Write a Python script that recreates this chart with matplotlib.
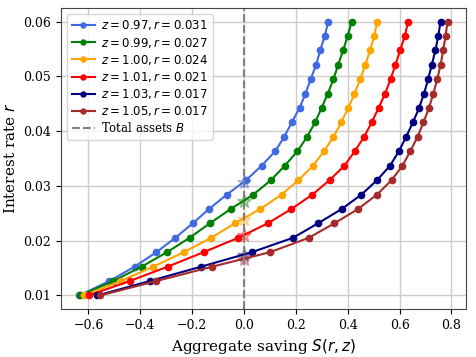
import numpy as np
import matplotlib
matplotlib.use("Agg")
import matplotlib.pyplot as plt

plt.rcParams['font.family'] = 'serif'
plt.rcParams['mathtext.fontset'] = 'dejavusans'

# interest rate grid (20 points)
r_grid = np.linspace(0.01, 0.06, 20)

z_vals = [0.97, 0.99, 1.00, 1.01, 1.03, 1.05]
r_eq = [0.0308, 0.0273, 0.0240, 0.0210, 0.0174, 0.0167]
colors = ['royalblue', 'green', 'orange', 'red', 'navy', 'brown']

S_097 = [-0.635, -0.519, -0.422, -0.338, -0.265, -0.198, -0.135, -0.066, 0.008, 0.068,
         0.120, 0.155, 0.184, 0.214, 0.237, 0.257, 0.278, 0.294, 0.311, 0.325]
S_099 = [-0.632, -0.504, -0.395, -0.297, -0.210, -0.132, -0.051, 0.036, 0.104, 0.157,
         0.206, 0.243, 0.274, 0.299, 0.323, 0.345, 0.363, 0.382, 0.400, 0.415]
S_100 = [-0.618, -0.476, -0.350, -0.232, -0.127, -0.035, 0.063, 0.145, 0.210, 0.266,
         0.308, 0.345, 0.375, 0.402, 0.426, 0.448, 0.468, 0.486, 0.502, 0.514]
S_101 = [-0.599, -0.441, -0.294, -0.156, -0.022, 0.091, 0.183, 0.264, 0.330, 0.387,
         0.427, 0.463, 0.492, 0.519, 0.544, 0.565, 0.584, 0.602, 0.620, 0.633]
S_103 = [-0.565, -0.364, -0.165, 0.030, 0.189, 0.285, 0.377, 0.453, 0.513, 0.563,
         0.597, 0.625, 0.651, 0.675, 0.694, 0.710, 0.724, 0.738, 0.749, 0.758]
S_105 = [-0.555, -0.338, -0.122, 0.100, 0.250, 0.348, 0.440, 0.513, 0.569, 0.611,
         0.641, 0.669, 0.692, 0.713, 0.730, 0.745, 0.758, 0.768, 0.777, 0.785]
savings = [S_097, S_099, S_100, S_101, S_103, S_105]

fig, ax = plt.subplots(figsize=(4.76, 3.57), dpi=100)
fig.subplots_adjust(left=0.128, right=0.979, top=0.978, bottom=0.134)

for z, S, req, c in zip(z_vals, savings, r_eq, colors):
    ax.plot(S, r_grid, '-o', color=c, lw=1.5, ms=4.5,
            label=r'$z = %.2f, r = %.3f$' % (z, req))
    ax.plot(0, req, '*', color=c, ms=10, alpha=0.35)

ax.axvline(0, color='gray', ls='--', lw=1.5, label=r'Total assets $B$')

ax.grid(True, color='#cccccc', lw=1)
ax.set_axisbelow(True)
for sp in ax.spines.values():
    sp.set_color('#444444')
ax.tick_params(labelsize=9)
ax.set_xlabel(r'Aggregate saving $S(r, z)$', fontsize=11)
ax.set_ylabel(r'Interest rate $r$', fontsize=11)
ax.legend(loc='upper left', fontsize=8.5, labelspacing=0.26, handletextpad=0.5,
          markerscale=0.8)

plt.savefig('out.png', dpi=100)
